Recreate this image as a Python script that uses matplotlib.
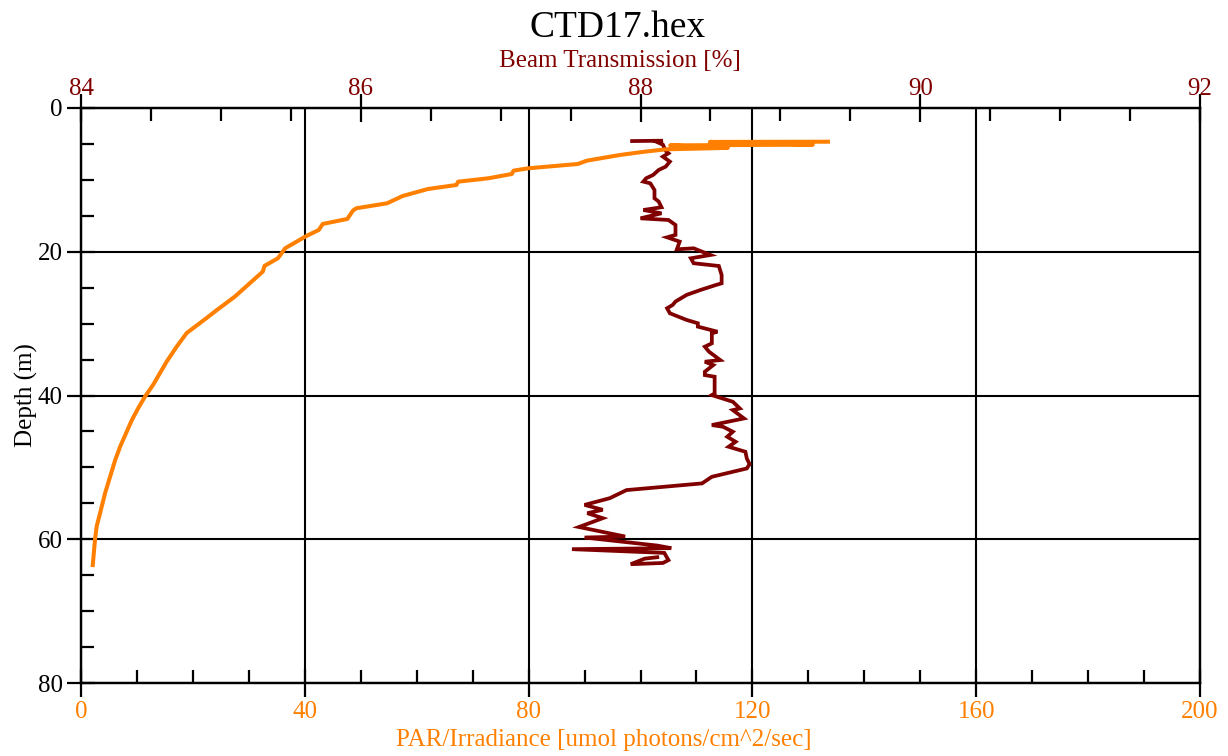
import matplotlib
matplotlib.use("Agg")
import matplotlib.pyplot as plt
from matplotlib.ticker import MultipleLocator

# ---- data ----
par_value = [133.5, 112.4, 130.8, 105.3, 115.6, 104.5, 100.5, 96.3, 90.4, 88.8, 79.9, 77.3,
             77.0, 72.8, 67.4, 67.1, 62.0, 57.5, 54.7, 49.2, 48.6, 47.6, 43.2, 42.5, 40.3,
             36.5, 35.2, 32.8, 32.5, 27.5, 24.3, 22.4, 20.1, 18.9, 17.1, 15.3, 14.1, 12.9,
             11.4, 10.2, 9.1, 7.0, 6.1, 5.2, 4.3, 3.4, 2.8, 2.5, 2.1]
par_depth = [4.69, 4.72, 5.1, 5.2, 5.55, 5.75, 6.1, 6.54, 7.33, 7.79, 8.39, 8.72,
             9.18, 9.78, 10.25, 10.71, 11.27, 12.24, 13.26, 13.95, 14.28, 15.44, 16.13, 16.97, 17.8,
             19.51, 20.9, 21.97, 22.76, 26.24, 28.1, 29.25, 30.6, 31.3, 33.2, 35.3, 36.9, 38.5,
             40.2, 41.8, 43.4, 47.1, 49.0, 51.3, 53.6, 56.4, 58.2, 60.1, 63.6]

beam_value = [87.94, 88.16, 88.12, 88.16, 88.18, 88.20, 88.16, 88.21, 88.18, 88.13, 88.09,
              88.04, 88.02, 88.07, 88.10, 88.10, 88.13, 88.15, 88.02, 88.15, 88.00, 88.20,
              88.25, 88.25, 88.19, 88.28, 88.26, 88.38, 88.50, 88.36, 88.38, 88.56, 88.58,
              88.58, 88.54, 88.43, 88.33, 88.25, 88.23, 88.19, 88.21, 88.33, 88.41, 88.41,
              88.55, 88.51, 88.51, 88.46, 88.49, 88.57, 88.46, 88.52, 88.46, 88.46, 88.53,
              88.53, 88.51, 88.66, 88.71, 88.66, 88.74, 88.51, 88.59, 88.66, 88.62, 88.68,
              88.63, 88.75, 88.76, 88.78, 88.76, 88.51, 88.44, 87.90, 87.78, 87.60, 87.73,
              87.62, 87.73, 87.56, 87.89, 87.60, 88.12, 88.22, 87.51, 88.17, 88.20, 88.16,
              87.93, 88.03, 88.12]
beam_depth = [4.60, 4.55, 4.75, 5.10, 5.95, 6.30, 6.77, 7.46, 8.16, 8.62, 9.32,
              9.78, 10.24, 10.48, 11.41, 12.56, 13.02, 13.81, 14.19, 14.65, 15.35, 15.58,
              16.27, 17.66, 17.99, 18.59, 19.66, 19.52, 20.45, 20.91, 21.60, 21.98, 23.23,
              24.39, 24.62, 25.31, 26.00, 26.93, 27.40, 27.86, 28.56, 29.49, 29.95, 30.42,
              31.12, 31.35, 32.74, 33.21, 33.91, 35.07, 35.30, 35.77, 36.69, 37.16, 37.39,
              39.71, 39.94, 40.87, 41.80, 42.03, 43.19, 44.11, 44.35, 45.04, 45.74, 46.44,
              47.13, 47.83, 48.76, 49.55, 50.15, 51.31, 52.23, 53.16, 54.29, 55.22, 55.90,
              56.37, 57.07, 58.30, 59.62, 59.76, 60.88, 61.24, 61.38, 61.90, 62.90, 63.30,
              63.47, 62.70, 62.50]

title = "CTD17.hex"
top_label = "Beam Transmission [%]"
bottom_label = "PAR/Irradiance [umol photons/cm^2/sec]"
y_label = "Depth (m)"

ORANGE = "#FF8000"
DARKRED = "#800000"

plt.rcParams['font.family'] = ['Liberation Serif', 'DejaVu Serif']
FS = 18

fig = plt.figure(figsize=(12.28, 7.56), dpi=100, facecolor="white")
ax = fig.add_axes([81/1228, 1 - 683/756, (1200-81)/1228, (683-108)/756])
ax2 = ax.twiny()

ax.set_xlim(0, 200)
ax.set_ylim(80, 0)
ax2.set_xlim(84, 92)

ax.xaxis.set_major_locator(MultipleLocator(40))
ax.xaxis.set_minor_locator(MultipleLocator(10))
ax.yaxis.set_major_locator(MultipleLocator(20))
ax.yaxis.set_minor_locator(MultipleLocator(5))
ax2.xaxis.set_major_locator(MultipleLocator(2))
ax2.xaxis.set_minor_locator(MultipleLocator(0.5))

ax.grid(True, which='major', color='black', linewidth=1.5)

for a in (ax, ax2):
    for s in a.spines.values():
        s.set_linewidth(1.6)
        s.set_color('black')

ax.tick_params(axis='x', which='major', direction='inout', length=20, width=1.6,
               labelsize=FS, labelcolor=ORANGE, pad=3, top=False)
ax.tick_params(axis='x', which='minor', direction='in', length=9.5, width=1.6, top=False)
ax.tick_params(axis='y', which='major', direction='inout', length=20, width=1.6,
               labelsize=FS, labelcolor='black', pad=3, right=False)
ax.tick_params(axis='y', which='minor', direction='in', length=9.5, width=1.6, right=False)
ax2.tick_params(axis='x', which='major', direction='inout', length=20, width=1.6,
                labelsize=FS, labelcolor=DARKRED, pad=-4)
ax2.tick_params(axis='x', which='minor', direction='in', length=9.5, width=1.6)

ax.set_ylabel(y_label, fontsize=FS, labelpad=0)

ax2.plot(beam_value, beam_depth, color=DARKRED, linewidth=2.7, solid_joinstyle='miter')
ax2.plot(par_value, par_depth, color=ORANGE, linewidth=2.9, transform=ax.transData)
ax2.set_xlim(84, 92)

fig.text(0.503, 1 - 28/756, title, ha='center', va='center', fontsize=27, color='black')
fig.text(0.505, 1 - 61/756, top_label, ha='center', va='center', fontsize=FS, color=DARKRED)
fig.text(0.492, 1 - 740/756, bottom_label, ha='center', va='center', fontsize=FS, color=ORANGE)

fig.savefig("out.png", dpi=100, facecolor="white")
